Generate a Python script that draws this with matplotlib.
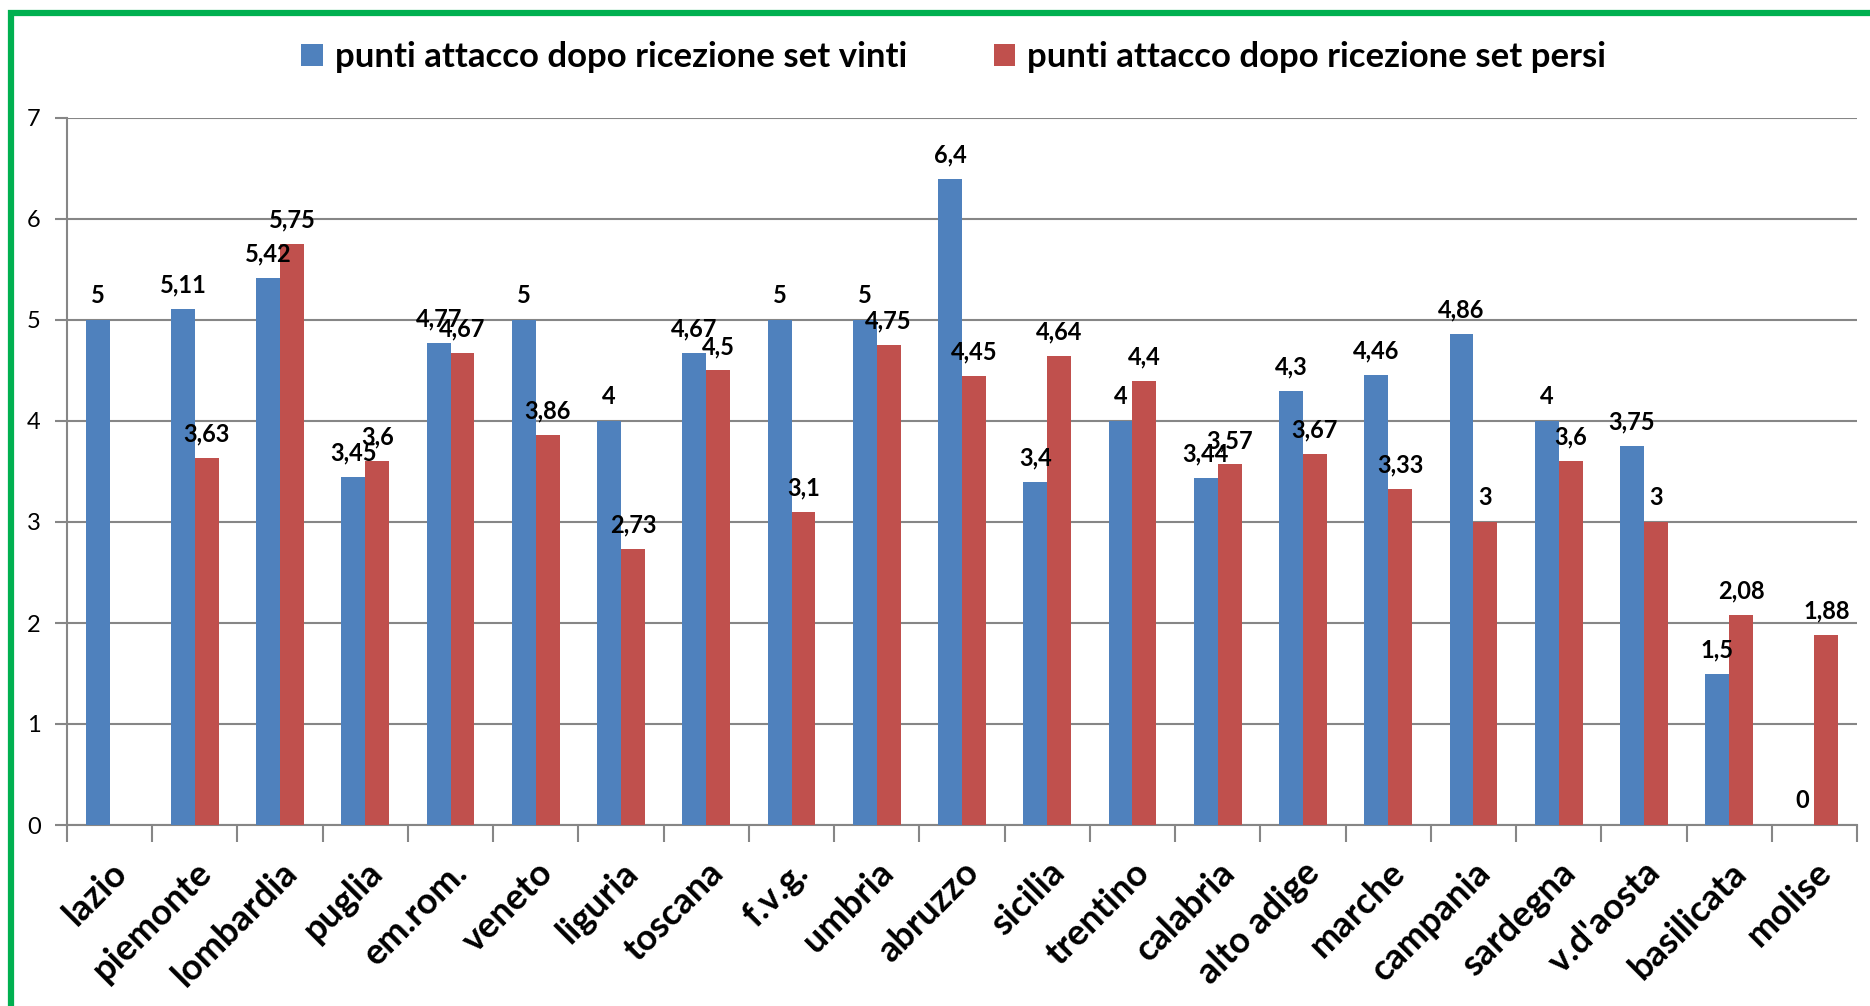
import numpy as np
import matplotlib
matplotlib.use("Agg")
import matplotlib.pyplot as plt
from matplotlib.patches import Rectangle

regioni = ["lazio", "piemonte", "lombardia", "puglia", "em.rom.", "veneto",
           "liguria", "toscana", "f.v.g.", "umbria", "abruzzo", "sicilia",
           "trentino", "calabria", "alto adige", "marche", "campania",
           "sardegna", "v.d'aosta", "basilicata", "molise"]
set_vinti = [5, 5.11, 5.42, 3.45, 4.77, 5, 4, 4.67, 5, 5, 6.4, 3.4, 4,
             3.44, 4.3, 4.46, 4.86, 4, 3.75, 1.5, 0]
set_persi = [np.nan, 3.63, 5.75, 3.6, 4.67, 3.86, 2.73, 4.5, 3.1, 4.75,
             4.45, 4.64, 4.4, 3.57, 3.67, 3.33, 3, 3.6, 3, 2.08, 1.88]
nomi_serie = ["punti attacco dopo ricezione set vinti",
              "punti attacco dopo ricezione set persi"]

BLU = "#4F81BD"
ROSSO = "#C0504D"
VERDE = "#00B050"
GRIGIO = "#868686"

plt.rcParams["font.family"] = ["Lato", "DejaVu Sans"]

fig = plt.figure(figsize=(18.7, 10.06), dpi=100)
ax = fig.add_axes([67 / 1870, 1 - 825 / 1006, (1857 - 67) / 1870, (825 - 118) / 1006])

x = np.arange(len(regioni))
w = 0.28
b1 = ax.bar(x - w / 2, set_vinti, w, color=BLU, label=nomi_serie[0], zorder=3)
b2 = ax.bar(x + w / 2, set_persi, w, color=ROSSO, label=nomi_serie[1], zorder=3)


def etichetta(v):
    return f"{v:g}".replace(".", ",")


# etichette dei valori sopra le barre (formato con virgola)
for bars, vals in ((b1, set_vinti), (b2, set_persi)):
    for rect, v in zip(bars, vals):
        if np.isnan(v):
            continue
        ax.annotate(etichetta(v), (rect.get_x() + rect.get_width() / 2, v),
                    xytext=(0, 9), textcoords="offset points",
                    ha="center", va="bottom", fontsize=17, fontweight="bold",
                    zorder=4)

ax.set_ylim(0, 7)
ax.set_xlim(-0.5, len(regioni) - 0.5)
ax.set_yticks(range(8))
ax.yaxis.grid(True, color=GRIGIO, linewidth=1.5, zorder=0)
ax.tick_params(axis="y", length=9, width=1.5, color=GRIGIO, labelsize=17, pad=10)

# tacche sui confini delle categorie, nomi al centro
ax.set_xticks(np.arange(len(regioni) + 1) - 0.5)
ax.set_xticklabels([])
ax.tick_params(axis="x", which="major", length=12, width=1.5, color=GRIGIO)
ax.set_xticks(x, minor=True)
ax.set_xticklabels(regioni, minor=True, rotation=45, ha="right",
                   rotation_mode="anchor", fontsize=26, fontweight="bold")
ax.tick_params(axis="x", which="minor", length=0, pad=22)

for s in ("top", "right"):
    ax.spines[s].set_visible(False)
for s in ("left", "bottom"):
    ax.spines[s].set_color(GRIGIO)
    ax.spines[s].set_linewidth(1.5)

fig.legend(handles=[b1, b2], labels=nomi_serie, loc="center",
           bbox_to_anchor=(0.51, 1 - 57 / 1006), ncol=2, frameon=False,
           prop={"weight": "bold", "size": 25},
           handlelength=0.62, handleheight=0.62, handletextpad=0.35,
           columnspacing=2.5)

# cornice verde che esce dal bordo destro e inferiore
fig.patches.append(Rectangle((11 / 1870, -0.1), 1.2, 1 - 13 / 1006 + 0.1,
                             transform=fig.transFigure, fill=False,
                             edgecolor=VERDE, linewidth=4.5, clip_on=False))

fig.savefig("out.png", dpi=100)
